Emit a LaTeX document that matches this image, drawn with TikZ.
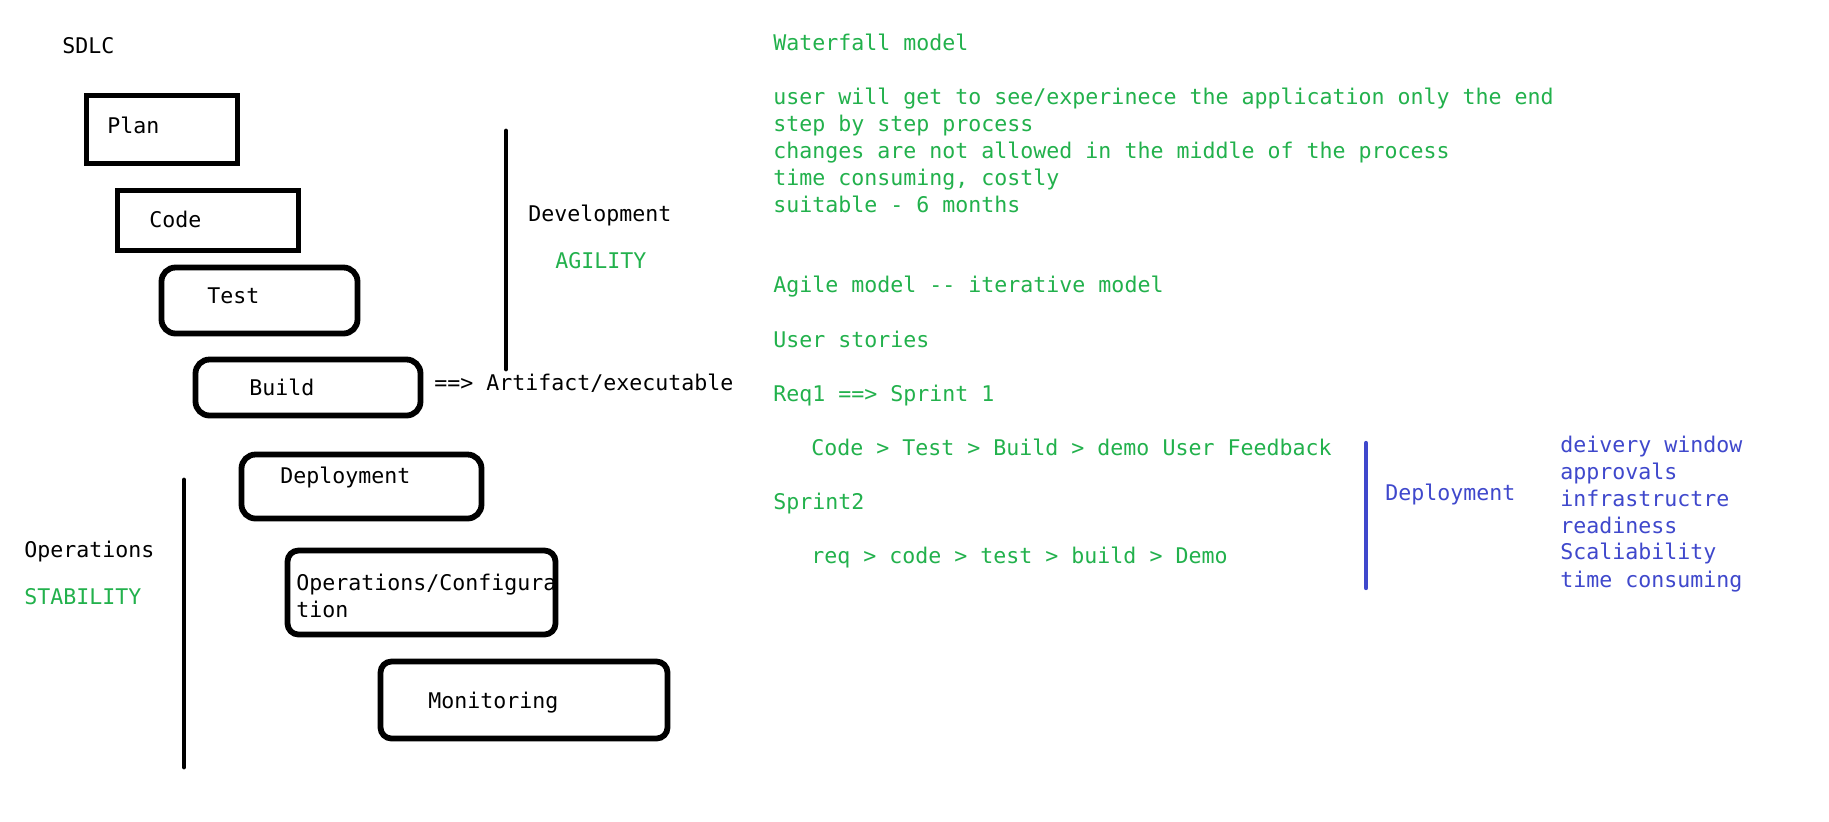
\documentclass[tikz,border=0pt]{standalone}
\usepackage{fontspec}
\setmonofont{DejaVu Sans Mono}
\definecolor{pgreen}{RGB}{34,177,76}
\definecolor{pblue}{RGB}{63,72,204}
\begin{document}
\begin{tikzpicture}[x=0.5pt,y=-0.5pt,
  txt/.style={font=\ttfamily\fontsize{10.8}{13.4}\selectfont, anchor=base west, inner sep=0pt},
  gtxt/.style={txt, text=pgreen},
  btxt/.style={txt, text=pblue},
  sqbox/.style={draw, line width=2.9pt, inner sep=0pt},
  rbox/.style={draw, line width=2.9pt, rounded corners=7pt, inner sep=0pt},
  rboxs/.style={draw, line width=2.9pt, rounded corners=5.5pt, inner sep=0pt},
  bar/.style={line width=2.4pt, line cap=round},
  bbar/.style={line width=2.2pt, line cap=round, draw=pblue}]
\useasboundingbox[fill=white] (0,0) rectangle (1829,821);

% left column
\node[txt] (sdlc) at (62,53) {SDLC};
\node[sqbox, minimum width=75.5pt, minimum height=34pt] (planbox) at (162,129.5) {};
\node[txt] (plan) at (107,133) {Plan};
\node[sqbox, minimum width=90.5pt, minimum height=30pt] (codebox) at (208,220.5) {};
\node[txt] (code) at (149,227) {Code};
\node[rbox, minimum width=98pt, minimum height=33pt] (testbox) at (259.5,300.5) {};
\node[txt] (test) at (207,303) {Test};
\node[rbox, minimum width=112.5pt, minimum height=28pt] (buildbox) at (308,387.5) {};
\node[txt] (build) at (249,395) {Build};
\node[txt] (artifact) at (434,390) {==> Artifact/executable};
\node[rbox, minimum width=120pt, minimum height=32pt] (deploybox) at (361.5,486.5) {};
\node[txt] (deploy) at (280,483) {Deployment};
\node[rboxs, minimum width=134pt, minimum height=42pt] (opsbox) at (421.5,592.5) {};
\node[txt] (ops1) at (296,590) {Operations/Configura};
\node[txt] (ops2) at (296,617) {tion};
\node[rboxs, minimum width=143.5pt, minimum height=38.5pt] (monbox) at (524,700) {};
\node[txt] (mon) at (428,708) {Monitoring};

% development bar
\coordinate (devtop) at (506,131);
\coordinate (devbot) at (506,369);
\draw[bar] (devtop) -- (devbot);
\node[txt] (devlbl) at (528,221) {Development};
\node[gtxt] (agility) at (555,268) {AGILITY};

% operations bar
\coordinate (optop) at (184,480);
\coordinate (opbot) at (184,767);
\draw[bar] (optop) -- (opbot);
\node[txt] (opslbl) at (24,557) {Operations};
\node[gtxt] (stability) at (24,604) {STABILITY};

% right column
\node[gtxt] (w0) at (773,50) {Waterfall model};
\node[gtxt] (w1) at (773,104) {user will get to see/experinece the application only the end};
\node[gtxt] (w2) at (773,131) {step by step process};
\node[gtxt] (w3) at (773,158) {changes are not allowed in the middle of the process};
\node[gtxt] (w4) at (773,185) {time consuming, costly};
\node[gtxt] (w5) at (773,212) {suitable - 6 months};
\node[gtxt] (a0) at (773,292) {Agile model -- iterative model};
\node[gtxt] (a1) at (773,347) {User stories};
\node[gtxt] (a2) at (773,401) {Req1 ==> Sprint 1};
\node[gtxt] (a3) at (811,455) {Code > Test > Build > demo User Feedback};
\node[gtxt] (a4) at (773,509) {Sprint2};
\node[gtxt] (a5) at (811,563) {req > code > test > build > Demo};

% deployment bar
\coordinate (btop) at (1366,443);
\coordinate (bbot) at (1366,588);
\draw[bbar] (btop) -- (bbot);
\node[btxt] (bdeploy) at (1385,500) {Deployment};
\node[btxt] (b1) at (1560,452) {deivery window};
\node[btxt] (b2) at (1560,479) {approvals};
\node[btxt] (b3) at (1560,506) {infrastructre};
\node[btxt] (b4) at (1560,533) {readiness};
\node[btxt] (b5) at (1560,559) {Scaliability};
\node[btxt] (b6) at (1560,587) {time consuming};
\end{tikzpicture}
\end{document}
